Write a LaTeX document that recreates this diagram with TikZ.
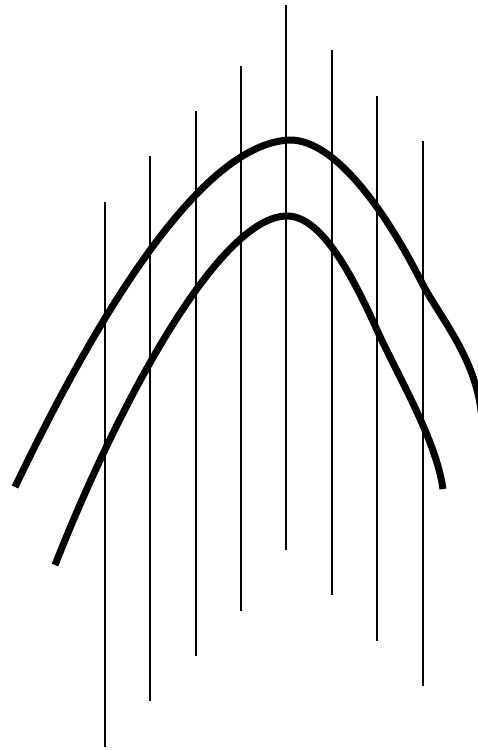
\documentclass[tikz,border=0pt]{standalone}
\usepackage{tikz}

\begin{document}
\begin{tikzpicture}[x=1pt,y=-1pt]
\useasboundingbox (0,0) rectangle (478,750);
\clip (0,0) rectangle (478,750);
% vertical lines
\foreach \x/\t in {105/202,150/156,196/111,241/66,286/5,332/50,377/96,423/141}
  \draw[line width=1.4pt] (\x,\t) -- (\x,\t+545);
% upper arc
\draw[line width=7pt] (15,487) .. controls (95,320) and (200,143) .. (290,140)
  .. controls (335,140) and (385,210) .. (422,283)
  .. controls (440,318) and (478,360) .. (482,420);
% lower arc
\draw[line width=7pt] (55,565) .. controls (120,400) and (220,216) .. (287,216)
  .. controls (320,216) and (350,270) .. (377,330)
  .. controls (400,380) and (436,440) .. (443,489);
\end{tikzpicture}
\end{document}
